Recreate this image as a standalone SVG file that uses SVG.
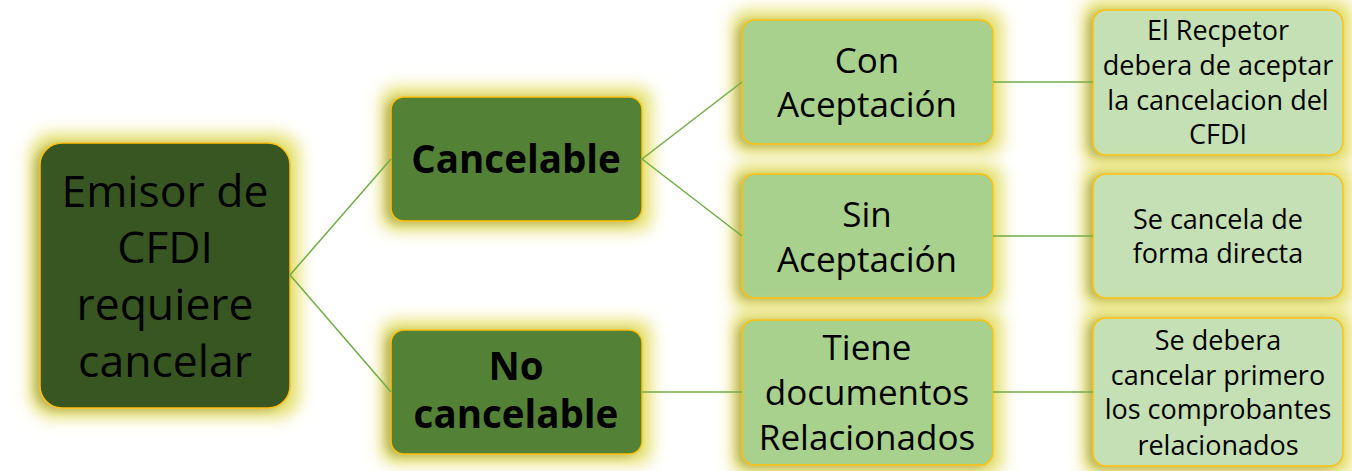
<svg xmlns="http://www.w3.org/2000/svg" width="1352" height="471" viewBox="0 0 1352 471">
<defs>
<filter id="glow" x="-30%" y="-40%" width="160%" height="180%">
<feMorphology in="SourceAlpha" operator="dilate" radius="9" result="d"/>
<feGaussianBlur in="d" stdDeviation="8" result="b"/>
<feFlood flood-color="#E6E170" flood-opacity="1"/>
<feComposite in2="b" operator="in" result="g"/>
<feGaussianBlur in="SourceAlpha" stdDeviation="5" result="sb"/>
<feOffset in="sb" dx="-5" dy="2" result="so"/>
<feFlood flood-color="#7E7A2C" flood-opacity="0.55"/>
<feComposite in2="so" operator="in" result="s"/>
<feMerge><feMergeNode in="g"/><feMergeNode in="s"/><feMergeNode in="SourceGraphic"/></feMerge>
</filter>
</defs>
<style>
rect{stroke:#FFC000;stroke-width:1.5;filter:url(#glow)}
.l0{fill:#385723}
.l1{fill:#538135}
.l2{fill:#A9D18E}
.l3{fill:#C5E0B4}
text{font-family:"Open Sans","Noto Sans","DejaVu Sans",sans-serif;fill:#000;text-anchor:middle}
.t0{font-size:44.5px}
.t1{font-size:38.5px;font-weight:bold}
.t2{font-size:35px}
.t3{font-size:27px}
#connectors path{fill:none;stroke:#70AD47;stroke-width:1.5}
</style>
<g id="root">
<rect class="l0" x="40" y="143" width="250" height="265" rx="22"/>
<text class="t0" x="165" y="207">Emisor de</text>
<text class="t0" x="165" y="263">CFDI</text>
<text class="t0" x="165" y="320">requiere</text>
<text class="t0" x="165" y="377">cancelar</text>
</g>
<g id="cancelable">
<rect class="l1" x="391" y="97" width="251" height="124" rx="13"/>
<text class="t1" x="516" y="173">Cancelable</text>
</g>
<g id="no-cancelable">
<rect class="l1" x="391" y="330" width="251" height="124" rx="13"/>
<text class="t1" x="516" y="380">No</text>
<text class="t1" x="516" y="428">cancelable</text>
</g>
<g id="con-aceptacion">
<rect class="l2" x="742" y="20" width="251" height="124" rx="13"/>
<text class="t2" x="867" y="73">Con</text>
<text class="t2" x="867" y="117">Aceptación</text>
</g>
<g id="sin-aceptacion">
<rect class="l2" x="742" y="174" width="251" height="124" rx="13"/>
<text class="t2" x="867" y="227">Sin</text>
<text class="t2" x="867" y="272">Aceptación</text>
</g>
<g id="tiene-documentos">
<rect class="l2" x="742" y="320" width="251" height="145" rx="13"/>
<text class="t2" x="867" y="360">Tiene</text>
<text class="t2" x="867" y="405">documentos</text>
<text class="t2" x="867" y="450">Relacionados</text>
</g>
<g id="receptor-acepta">
<rect class="l3" x="1093" y="10" width="250" height="145" rx="13"/>
<text class="t3" x="1218" y="40">El Recpetor</text>
<text class="t3" x="1218" y="75">debera de aceptar</text>
<text class="t3" x="1218" y="110">la cancelacion del</text>
<text class="t3" x="1218" y="144">CFDI</text>
</g>
<g id="cancela-directa">
<rect class="l3" x="1093" y="174" width="250" height="124" rx="13"/>
<text class="t3" x="1218" y="229">Se cancela de</text>
<text class="t3" x="1218" y="263">forma directa</text>
</g>
<g id="cancelar-relacionados">
<rect class="l3" x="1093" y="318" width="250" height="148" rx="13"/>
<text class="t3" x="1218" y="350">Se debera</text>
<text class="t3" x="1218" y="385">cancelar primero</text>
<text class="t3" x="1218" y="419">los comprobantes</text>
<text class="t3" x="1218" y="455">relacionados</text>
</g>
<g id="connectors">
<path d="M290,275 L391,159"/>
<path d="M290,275 L391,392"/>
<path d="M642,159 L742,82"/>
<path d="M642,159 L742,236"/>
<path d="M642,392 L742,392"/>
<path d="M993,82 L1093,82"/>
<path d="M993,236 L1093,236"/>
<path d="M993,392 L1093,392"/>
</g>
</svg>
